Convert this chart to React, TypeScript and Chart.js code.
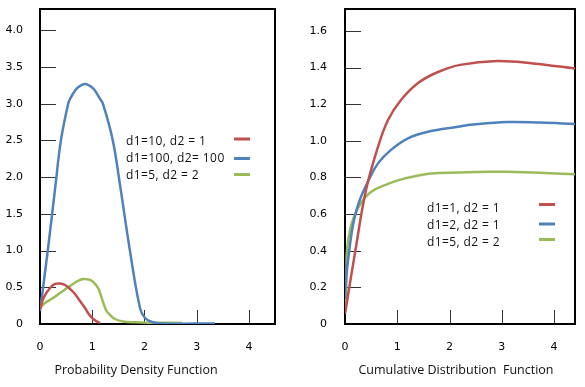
import React, { useEffect, useRef } from 'react';
import { Chart, registerables } from 'chart.js';
Chart.register(...registerables);

const RED = '#c0504d';
const BLUE = '#4f81bd';
const GREEN = '#9bbb59';

// ---------- Left panel: probability density function ----------
const pdfXTicks = [0, 1, 2, 3, 4];
const pdfXTickLabels = ['0', '1', '2', '3', '4'];
const pdfYTicks = [0, 0.5, 1, 1.5, 2, 2.5, 3, 3.5, 4];
const pdfYTickLabels = ['0', '0.5', '1.0', '1.5', '2.0', '2.5', '3.0', '3.5', '4.0'];

const pdfRedX = [0, 0.077, 0.192, 0.287, 0.383, 0.479, 0.575, 0.67, 0.766, 0.862, 0.92, 0.996, 1.073, 1.149];
const pdfRedY = [0.204, 0.368, 0.49, 0.545, 0.552, 0.531, 0.477, 0.409, 0.313, 0.218, 0.15, 0.082, 0.041, 0.014];

const pdfBlueX = [0, 0.153, 0.297, 0.402, 0.542, 0.586, 0.638, 0.714, 0.862, 1.009, 1.086, 1.137, 1.201, 1.392, 1.532, 1.723, 1.915, 2.011, 2.145, 2.336, 3.351];
const pdfBlueY = [0.177, 1.022, 1.894, 2.507, 3.007, 3.079, 3.143, 3.215, 3.27, 3.215, 3.143, 3.079, 3.007, 2.507, 1.894, 0.995, 0.218, 0.082, 0.027, 0.007, 0.007];

const pdfGreenX = [0, 0.096, 0.249, 0.383, 0.517, 0.632, 0.728, 0.824, 0.92, 0.996, 1.073, 1.13, 1.169, 1.207, 1.264, 1.341, 1.437, 1.59, 1.82, 2.107, 2.72];
const pdfGreenY = [0.218, 0.286, 0.354, 0.422, 0.49, 0.545, 0.586, 0.613, 0.606, 0.586, 0.531, 0.463, 0.381, 0.3, 0.191, 0.123, 0.068, 0.034, 0.023, 0.018, 0.014];

const pdfLabels = ['d1=10, d2 = 1', 'd1=100, d2= 100', 'd1=5, d2 = 2'];

// ---------- Right panel: cumulative distribution function ----------
const cdfXTicks = [0, 1, 2, 3, 4];
const cdfXTickLabels = ['0', '1', '2', '3', '4'];
const cdfYTicks = [0, 0.2, 0.4, 0.6, 0.8, 1.0, 1.2, 1.4, 1.6];
const cdfYTickLabels = ['0', '0.2', '0.4', '0.6', '0.8', '1.0', '1.2', '1.4', '1.6'];

const cdfRedX = [0, 0.21, 0.402, 0.631, 0.823, 1.071, 1.397, 1.779, 2.2, 2.908, 3.597, 4.4];
const cdfRedY = [0.055, 0.421, 0.732, 0.967, 1.114, 1.223, 1.316, 1.376, 1.415, 1.436, 1.423, 1.395];

const cdfBlueX = [0, 0.025, 0.09, 0.172, 0.282, 0.44, 0.631, 0.88, 1.205, 1.588, 2.162, 2.449, 3.099, 3.73, 4.4];
const cdfBlueY = [0.137, 0.258, 0.422, 0.568, 0.677, 0.778, 0.877, 0.951, 1.014, 1.05, 1.077, 1.089, 1.103, 1.1, 1.092];

const cdfGreenX = [0.019, 0.029, 0.038, 0.096, 0.172, 0.306, 0.497, 0.823, 1.148, 1.645, 2.162, 2.774, 3.099, 3.73, 4.4];
const cdfGreenY = [0.104, 0.295, 0.404, 0.513, 0.584, 0.661, 0.721, 0.765, 0.795, 0.822, 0.827, 0.831, 0.831, 0.826, 0.817];

const cdfLabels = ['d1=1, d2 = 1', 'd1=2, d2 = 1', 'd1=5, d2 = 2'];

type Series = { xs: number[]; ys: number[]; color: string };

type PanelCfg = {
  canvasLeft: number;
  canvasWidth: number;
  padLeft: number;
  padRight: number;
  yAxisWidth: number;
  yLabelPad: number;
  xMax: number;
  yMax: number;
  xTicks: number[];
  xTickLabels: string[];
  yTicks: number[];
  yTickLabels: string[];
  series: Series[];
  labels: string[];
  title: string;
  titleOffset: number;
  legendTextOffset: number;
  legendRowY: number[];
  legendLineY: number[];
};

const TICK_FONT = { family: '"DejaVu Sans", sans-serif', size: 11 };
const TEXT_FONT = '"Open Sans", sans-serif';

function Panel({ cfg }: { cfg: PanelCfg }) {
  const ref = useRef<HTMLCanvasElement | null>(null);
  useEffect(() => {
    if (!ref.current) return;
    const decor = {
      id: 'decor',
      beforeDatasetsDraw(chart: any) {
        const { ctx, chartArea } = chart;
        const xs = chart.scales.x;
        const ys = chart.scales.y;
        ctx.save();
        ctx.strokeStyle = '#333';
        ctx.lineWidth = 1;
        cfg.yTicks.forEach((v) => {
          if (v === 0) return;
          const y = Math.round(ys.getPixelForValue(v)) + 0.5;
          ctx.beginPath();
          ctx.moveTo(chartArea.left, y);
          ctx.lineTo(chartArea.left + 16, y);
          ctx.stroke();
        });
        cfg.xTicks.forEach((v) => {
          if (v === 0) return;
          const x = Math.round(xs.getPixelForValue(v)) + 0.5;
          ctx.beginPath();
          ctx.moveTo(x, chartArea.bottom);
          ctx.lineTo(x, chartArea.bottom - 14);
          ctx.stroke();
        });
        ctx.strokeStyle = '#000';
        ctx.lineWidth = 2;
        ctx.strokeRect(chartArea.left, chartArea.top, chartArea.right - chartArea.left, chartArea.bottom - chartArea.top);
        ctx.restore();
      },
      afterDraw(chart: any) {
        const { ctx, chartArea } = chart;
        ctx.save();
        ctx.fillStyle = '#111';
        ctx.font = `12px ${TEXT_FONT}`;
        try { (ctx as any).letterSpacing = '0.4px'; } catch (e) {}
        ctx.textBaseline = 'middle';
        ctx.textAlign = 'left';
        cfg.labels.forEach((t, i) => {
          ctx.fillText(t, chartArea.left + cfg.legendTextOffset, cfg.legendRowY[i]);
        });
        cfg.series.forEach((s, i) => {
          ctx.strokeStyle = s.color;
          ctx.lineWidth = 3;
          ctx.beginPath();
          ctx.moveTo(chartArea.left + 194, cfg.legendLineY[i]);
          ctx.lineTo(chartArea.left + 210, cfg.legendLineY[i]);
          ctx.stroke();
        });
        try { (ctx as any).letterSpacing = '0px'; } catch (e) {}
        ctx.font = `12.5px ${TEXT_FONT}`;
        ctx.textAlign = 'center';
        ctx.fillText(cfg.title, chartArea.left + cfg.titleOffset, 370);
        ctx.restore();
      },
    };
    const chart = new Chart(ref.current, {
      type: 'line',
      data: {
        datasets: cfg.series.map((s) => ({
          data: s.xs.map((x, i) => ({ x, y: s.ys[i] })),
          borderColor: s.color,
          borderWidth: 2.5,
          pointRadius: 0,
          fill: false,
          tension: 0.4,
        })),
      },
      options: {
        animation: false,
        responsive: false,
        layout: { padding: { left: cfg.padLeft, right: cfg.padRight, top: 9, bottom: 0 } },
        plugins: { legend: { display: false }, tooltip: { enabled: false } },
        scales: {
          x: {
            type: 'linear',
            min: 0,
            max: cfg.xMax,
            afterBuildTicks: (s: any) => {
              s.ticks = cfg.xTicks.map((v) => ({ value: v }));
            },
            afterFit: (s: any) => {
              s.height = 63;
              s.paddingLeft = 0;
              s.paddingRight = 0;
            },
            ticks: {
              callback: (_v: any, i: number) => cfg.xTickLabels[i],
              font: TICK_FONT,
              color: '#000',
              padding: 17,
              maxRotation: 0,
              autoSkip: false,
            },
            grid: { display: false, drawTicks: false },
            border: { display: false },
          },
          y: {
            type: 'linear',
            min: 0,
            max: cfg.yMax,
            afterBuildTicks: (s: any) => {
              s.ticks = cfg.yTicks.map((v) => ({ value: v }));
            },
            afterFit: (s: any) => {
              s.width = cfg.yAxisWidth;
              s.paddingTop = 0;
              s.paddingBottom = 0;
            },
            ticks: {
              callback: (_v: any, i: number) => cfg.yTickLabels[i],
              font: TICK_FONT,
              color: '#000',
              crossAlign: 'near',
              padding: cfg.yLabelPad,
              autoSkip: false,
            },
            grid: { display: false, drawTicks: false },
            border: { display: false },
          },
        },
      },
      plugins: [decor],
    });
    return () => chart.destroy();
  }, [cfg]);
  return (
    <canvas
      ref={ref}
      width={cfg.canvasWidth}
      height={387}
      style={{ position: 'absolute', left: cfg.canvasLeft, top: 0, display: 'block' }}
    />
  );
}

const leftCfg: PanelCfg = {
  canvasLeft: 0,
  canvasWidth: 290,
  padLeft: 0,
  padRight: 15,
  yAxisWidth: 40,
  yLabelPad: 17,
  xMax: 4.5,
  yMax: 4.29,
  xTicks: pdfXTicks,
  xTickLabels: pdfXTickLabels,
  yTicks: pdfYTicks,
  yTickLabels: pdfYTickLabels,
  series: [
    { xs: pdfRedX, ys: pdfRedY, color: RED },
    { xs: pdfBlueX, ys: pdfBlueY, color: BLUE },
    { xs: pdfGreenX, ys: pdfGreenY, color: GREEN },
  ],
  labels: pdfLabels,
  title: 'Probability Density Function',
  titleOffset: 96,
  legendTextOffset: 86,
  legendRowY: [142, 159, 176],
  legendLineY: [139, 158.5, 174.5],
};

const rightCfg: PanelCfg = {
  canvasLeft: 290,
  canvasWidth: 295,
  padLeft: 0,
  padRight: 10,
  yAxisWidth: 55,
  yLabelPad: 18,
  xMax: 4.4,
  yMax: 1.72,
  xTicks: cdfXTicks,
  xTickLabels: cdfXTickLabels,
  yTicks: cdfYTicks,
  yTickLabels: cdfYTickLabels,
  series: [
    { xs: cdfRedX, ys: cdfRedY, color: RED },
    { xs: cdfBlueX, ys: cdfBlueY, color: BLUE },
    { xs: cdfGreenX, ys: cdfGreenY, color: GREEN },
  ],
  labels: cdfLabels,
  title: 'Cumulative Distribution  Function',
  titleOffset: 111,
  legendTextOffset: 82,
  legendRowY: [209, 226, 243],
  legendLineY: [204.5, 224, 239.5],
};

export default function App() {
  return (
    <div style={{ position: 'absolute', left: 0, top: 0, width: 585, height: 387, background: '#fff', overflow: 'hidden' }}>
      <Panel cfg={leftCfg} />
      <Panel cfg={rightCfg} />
    </div>
  );
}
